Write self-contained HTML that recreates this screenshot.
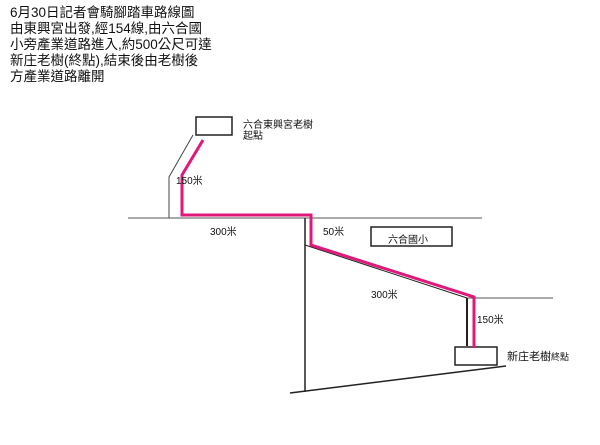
<!DOCTYPE html><html><head><style>
body{margin:0;width:600px;height:445px;background:#fff;position:relative;overflow:hidden;font-family:"Liberation Sans","Noto Sans CJK TC",sans-serif;color:#111}
.t{position:absolute;white-space:nowrap}
</style></head><body>
<div class="t" style="left:10px;top:5px;font-size:13.5px;line-height:16px">6月30日記者會騎腳踏車路線圖<br>由東興宮出發,經154線,由六合國<br>小旁產業道路進入,約500公尺可達<br>新庄老樹(終點),結束後由老樹後<br>方產業道路離開</div>
<svg width="600" height="445" style="position:absolute;left:0;top:0">
<g stroke="#222" fill="none" stroke-width="1">
<rect x="196" y="117" width="36" height="18" stroke-width="1.5"/>
<polyline points="193,135 169,177 169,218" stroke="#444"/>
<line x1="128" y1="218" x2="482" y2="218" stroke="#555"/>
<line x1="305" y1="218" x2="305" y2="392" stroke-width="1.5"/>
<line x1="305" y1="245" x2="467" y2="298"/>
<line x1="467" y1="298" x2="553" y2="298" stroke="#555"/>
<line x1="467" y1="298" x2="467" y2="346" stroke-width="2"/>
<rect x="455" y="347" width="42" height="18" stroke-width="1.5"/>
<rect x="371" y="227" width="81" height="19" stroke-width="1.5"/>
<line x1="290" y1="393" x2="506" y2="366" stroke-width="1.5"/>
</g>
<polyline points="203,140 182,175 182,215 311,215 311,245 474,297 474,348" stroke="#e0187a" stroke-width="3" fill="none"/>
</svg>
<div class="t" style="left:243px;top:120px;font-size:10px;line-height:11px">六合東興宮老樹<br>起點</div>
<div class="t" style="left:176px;top:172px;font-size:10px">150米</div>
<div class="t" style="left:210px;top:223px;font-size:10px">300米</div>
<div class="t" style="left:323px;top:223px;font-size:10px">50米</div>
<div class="t" style="left:388px;top:231px;font-size:10px">六合國小</div>
<div class="t" style="left:371px;top:286px;font-size:10px">300米</div>
<div class="t" style="left:477px;top:311px;font-size:10px">150米</div>
<div class="t" style="left:507px;top:348px;font-size:11px">新庄老樹<span style="font-size:9px">終點</span></div>
</body></html>
